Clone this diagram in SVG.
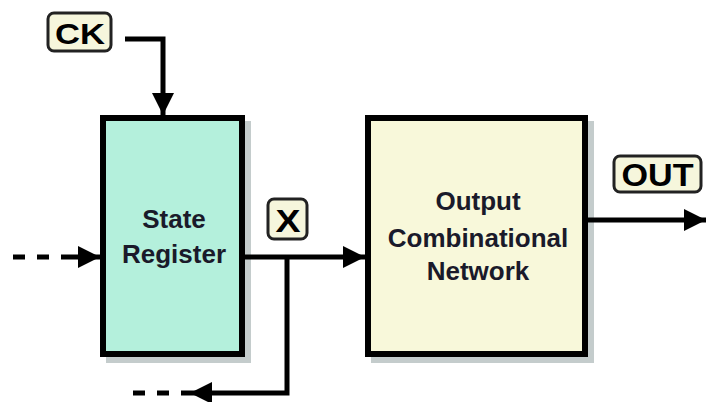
<svg xmlns="http://www.w3.org/2000/svg" width="706" height="402" viewBox="0 0 706 402">
<defs>
<style>
.box{stroke:#000;stroke-width:6}
.shadow{fill:#c4cccc}
.lbl{fill:#f6f6dc;stroke:#222;stroke-width:3}
.t{font-family:"Liberation Sans",Arial,sans-serif;font-weight:bold;text-anchor:middle;fill:#1a1a2a}
.lt{font-family:"Liberation Sans",Arial,sans-serif;font-weight:bold;text-anchor:middle;fill:#000}
.w{fill:none;stroke:#000;stroke-width:5}
.d{fill:none;stroke:#000;stroke-width:5;stroke-dasharray:12 12}
</style>
<marker id="ah" markerUnits="userSpaceOnUse" markerWidth="24" markerHeight="24" viewBox="0 0 24 24" refX="22" refY="12" orient="auto">
<path d="M0,1 L22,12 L0,23 Z" fill="#000"/>
</marker>
</defs>
<rect width="706" height="402" fill="#fff"/>
<g id="state-register">
<rect class="shadow" x="106" y="121" width="145" height="242"/>
<rect class="box" x="103" y="118" width="139" height="236" fill="#b4f0dc"/>
<text class="t" x="174" y="228" font-size="26">State</text>
<text class="t" x="174" y="263" font-size="26">Register</text>
</g>
<g id="output-network">
<rect class="shadow" x="371" y="121" width="223" height="242"/>
<rect class="box" x="368" y="118" width="217" height="236" fill="#f8f8da"/>
<text class="t" x="478" y="210" font-size="26">Output</text>
<text class="t" x="478" y="247" font-size="26">Combinational</text>
<text class="t" x="478" y="280" font-size="26">Network</text>
</g>
<g id="ck">
<rect class="lbl" x="48" y="13" width="63" height="38" rx="6"/>
<text class="lt" x="80" y="44" font-size="30" textLength="50" lengthAdjust="spacingAndGlyphs">CK</text>
</g>
<g id="x">
<rect class="lbl" x="268" y="199" width="39" height="40" rx="6"/>
<text class="lt" x="288" y="232" font-size="32" textLength="25" lengthAdjust="spacingAndGlyphs">X</text>
</g>
<g id="out">
<rect class="lbl" x="614" y="156" width="87" height="36" rx="6"/>
<text class="lt" x="657.500" y="186" font-size="32" textLength="72" lengthAdjust="spacingAndGlyphs">OUT</text>
</g>
<g id="connectors">
<path class="w" d="M125,39 H163 V115" marker-end="url(#ah)"/>
<path class="d" d="M13,257 H65"/>
<path class="w" d="M65,257 H100" marker-end="url(#ah)"/>
<path class="w" d="M245,257 H365" marker-end="url(#ah)"/>
<path class="w" d="M287,257 V393 H190" marker-end="url(#ah)"/>
<path class="d" d="M133,393 H190" stroke-dasharray="15 13"/>
<path class="w" d="M588,220 H706" marker-end="url(#ah)"/>
</g>
</svg>
